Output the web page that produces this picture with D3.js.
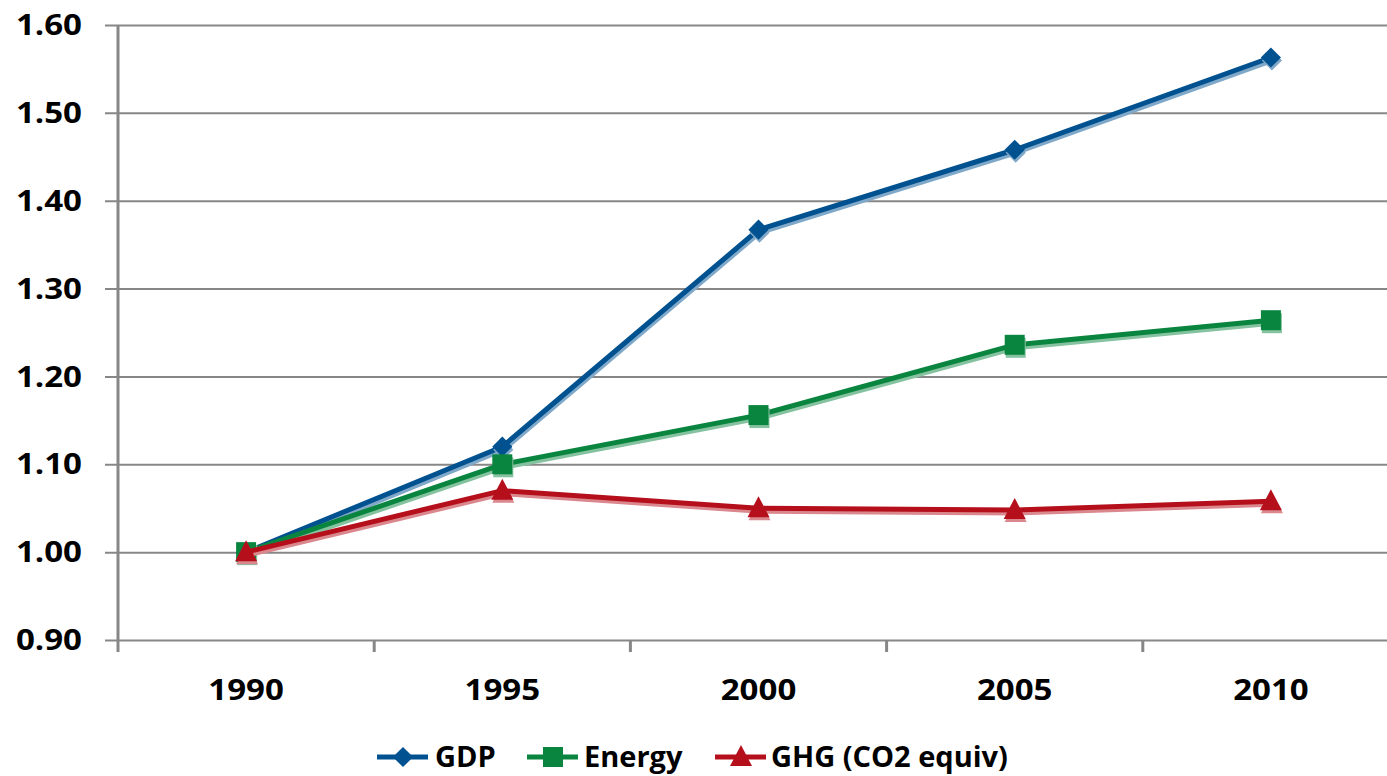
<!DOCTYPE html>
<html>
<head>
<meta charset="utf-8">
<script src="https://cdn.jsdelivr.net/npm/d3@7"></script>
<style>
  html, body { margin: 0; padding: 0; background: #fff; }
  svg text { font-family: "Open Sans", "DejaVu Sans", sans-serif; font-weight: 700; fill: #000; }
</style>
</head>
<body>
<svg id="chart" width="1387" height="776"></svg>
<script>
// Index values (1990 = 1.00)
const years = ["1990", "1995", "2000", "2005", "2010"];
const gdp    = [1.00, 1.12, 1.367, 1.458, 1.563];
const energy = [1.00, 1.10, 1.156, 1.236, 1.264];
const ghg    = [1.00, 1.07, 1.05, 1.048, 1.058];
const yTicks = [0.90, 1.00, 1.10, 1.20, 1.30, 1.40, 1.50, 1.60];
const seriesNames = ["GDP", "Energy", "GHG (CO2 equiv)"];

const series = [
  { name: seriesNames[0], values: gdp,    color: "#00518f", shadow: "#7fa8c9", marker: "diamond" },
  { name: seriesNames[1], values: energy, color: "#0a8540", shadow: "#85c29f", marker: "square" },
  { name: seriesNames[2], values: ghg,    color: "#b50f1c", shadow: "#da878d", marker: "triangle" }
];

const svg = d3.select("#chart");
const margin = { left: 118, right: -12, top: 25, bottom: 136 };
const W = 1387, H = 776;
const x0 = margin.left, x1 = W - margin.right;
const yTop = margin.top, yBot = H - margin.bottom;

const x = d3.scaleBand().domain(years).range([x0, x1]).padding(0);
const y = d3.scaleLinear().domain([0.90, 1.60]).range([yBot, yTop]);
const cx = d => x(d) + x.bandwidth() / 2;

const stretch = 1.18;   // horizontal text stretch for axis labels
const grid = "#878787";

// Horizontal gridlines with outward ticks
const yAxis = d3.axisLeft(y).tickValues(yTicks).tickSize(-(x1 - x0)).tickSizeOuter(0).tickFormat("");
const gy = svg.append("g").attr("transform", `translate(${x0},0)`).call(yAxis);
gy.select(".domain").remove();
gy.selectAll(".tick line").attr("stroke", grid).attr("stroke-width", 2).attr("x1", -13);

// Vertical axis line
svg.append("line").attr("x1", x0).attr("x2", x0).attr("y1", yTop).attr("y2", yBot + 12)
  .attr("stroke", grid).attr("stroke-width", 3);

// Category boundary ticks along the bottom
const bounds = years.map(d => x(d)).concat([x1]);
svg.append("g").selectAll("line").data(bounds.slice(1)).join("line")
  .attr("x1", d => d).attr("x2", d => d).attr("y1", yBot).attr("y2", yBot + 12)
  .attr("stroke", grid).attr("stroke-width", 3);

// Y tick labels
svg.append("g").selectAll("text").data(yTicks).join("text")
  .attr("transform", d => `translate(82,${y(d)}) scale(${stretch},1)`)
  .attr("text-anchor", "end").attr("dy", "0.36em")
  .style("font-size", "28px")
  .text(d => d.toFixed(2));

// X tick labels
svg.append("g").selectAll("text").data(years).join("text")
  .attr("transform", d => `translate(${cx(d)},${yBot + 50}) scale(${stretch},1)`)
  .attr("text-anchor", "middle").attr("dy", "0.36em")
  .style("font-size", "28px")
  .text(d => d);

// Marker shapes
function markerPath(kind) {
  if (kind === "diamond") return d3.symbol().type(d3.symbolDiamond2).size(260)();
  if (kind === "square") return d3.symbol().type(d3.symbolSquare).size(400)();
  return "M0,-12L11,9L-11,9Z";
}

const line = d3.line().x((d, i) => cx(years[i])).y(d => y(d));

// Later series are drawn on top
const plot = svg.append("g");
series.forEach(s => {
  const g = plot.append("g");
  // soft drop shadow
  g.append("path").datum(s.values).attr("d", line)
    .attr("transform", "translate(1,3)")
    .attr("fill", "none").attr("stroke", s.shadow).attr("stroke-width", 5)
    .attr("stroke-linejoin", "round");
  g.append("path").datum(s.values).attr("d", line)
    .attr("fill", "none").attr("stroke", s.color).attr("stroke-width", 5)
    .attr("stroke-linejoin", "round");
  g.selectAll("path.mk-sh").data(s.values).join("path").attr("class", "mk-sh")
    .attr("d", markerPath(s.marker))
    .attr("transform", (d, i) => `translate(${cx(years[i]) + 1},${y(d) + 3})`)
    .attr("fill", s.shadow);
  g.selectAll("path.mk").data(s.values).join("path").attr("class", "mk")
    .attr("d", markerPath(s.marker))
    .attr("transform", (d, i) => `translate(${cx(years[i])},${y(d)})`)
    .attr("fill", s.color);
});

// Legend
const legendY = 757;
const legendItems = [
  { s: series[0], lx: 377, tx: 435 },
  { s: series[1], lx: 527, tx: 584 },
  { s: series[2], lx: 715, tx: 771 }
];
const lg = svg.append("g");
legendItems.forEach(it => {
  lg.append("line").attr("x1", it.lx).attr("x2", it.lx + 51)
    .attr("y1", legendY).attr("y2", legendY)
    .attr("stroke", it.s.color).attr("stroke-width", 5);
  lg.append("path").attr("d", markerPath(it.s.marker))
    .attr("transform", `translate(${it.lx + 26},${legendY})`)
    .attr("fill", it.s.color);
  lg.append("text")
    .attr("transform", `translate(${it.tx},${legendY}) scale(1.0,1)`)
    .attr("dy", "0.36em").style("font-size", "29px")
    .text(it.s.name);
});
</script>
</body>
</html>
